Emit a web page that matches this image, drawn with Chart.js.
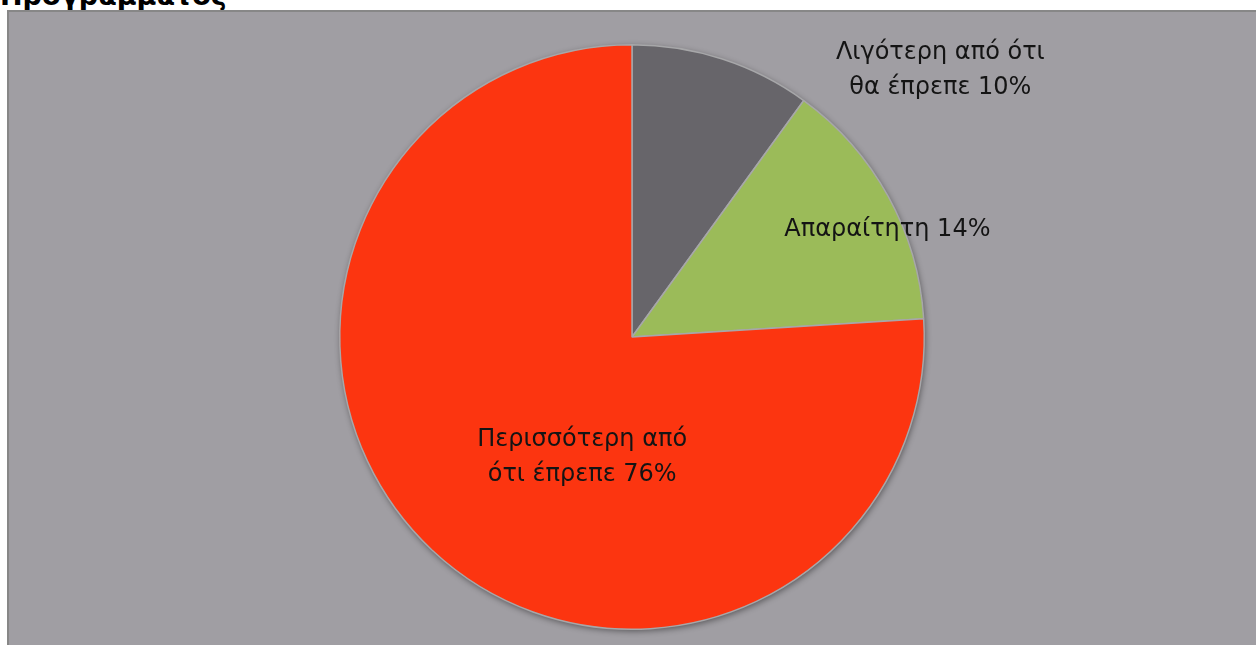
<!DOCTYPE html>
<html>
<head>
<meta charset="utf-8">
<script src="https://cdn.jsdelivr.net/npm/chart.js@4/dist/chart.umd.min.js"></script>
<style>
    html, body { margin: 0; padding: 0; background: #ffffff; overflow: hidden; }
    #pageTitle {
        position: absolute; left: 0; top: -20px;
        font: bold 27px "DejaVu Sans", sans-serif; color: #000;
        white-space: nowrap;
    }
    #plotBox {
        position: absolute; left: 7px; top: 10px; width: 1260px; height: 650px;
        background: #a09ea3; border: 2px solid #878787; box-sizing: border-box;
    }
    #chartCanvas { position: absolute; left: 0; top: 0; }
</style>
</head>
<body>
<div id="pageTitle">Προγράμματος</div>
<div id="plotBox"></div>
<canvas id="chartCanvas" width="1256" height="645"></canvas>
<script>
// κατηγορίες και ποσοστά
const categories = ["Λιγότερη από ότι θα έπρεπε", "Απαραίτητη", "Περισσότερη από ότι έπρεπε"];
const values = [10, 14, 76];
const sliceColors = ["#67656a", "#9bbb59", "#fc3510"];

// κείμενο ετικετών (το ποσοστό μπαίνει στο τέλος της τελευταίας γραμμής)
const labelLines = [
    ["Λιγότερη από ότι", "θα έπρεπε"],
    ["Απαραίτητη"],
    ["Περισσότερη από", "ότι έπρεπε"]
];
// θέση ετικέτας: γωνία (μοίρες από τα πάνω, δεξιόστροφα) και απόσταση ως κλάσμα της ακτίνας
const labelAngles = [48.9, 66.9, 202.8];
const labelRadii = [1.40, 0.95, 0.44];

// σκιά γύρω από την πίτα
const pieShadow = {
    id: "pieShadow",
    beforeDatasetsDraw(chart) {
        const arc = chart.getDatasetMeta(0).data[0];
        if (!arc) return;
        const ctx = chart.ctx;
        ctx.save();
        ctx.shadowColor = "rgba(0,0,0,0.45)";
        ctx.shadowBlur = 6;
        ctx.shadowOffsetX = 1;
        ctx.shadowOffsetY = 2;
        ctx.fillStyle = "#a09ea3";
        ctx.beginPath();
        ctx.arc(arc.x, arc.y, arc.outerRadius, 0, Math.PI * 2);
        ctx.fill();
        ctx.restore();
    }
};

// ετικέτες δεδομένων
const sliceLabels = {
    id: "sliceLabels",
    afterDatasetsDraw(chart) {
        const meta = chart.getDatasetMeta(0);
        const ctx = chart.ctx;
        ctx.save();
        ctx.font = '24px "DejaVu Sans", sans-serif';
        ctx.fillStyle = "#141414";
        ctx.textAlign = "center";
        ctx.textBaseline = "middle";
        meta.data.forEach((arc, i) => {
            const a = labelAngles[i] * Math.PI / 180;
            const r = arc.outerRadius * labelRadii[i];
            const cx = arc.x + Math.sin(a) * r;
            const cy = arc.y - Math.cos(a) * r + 2;
            const lines = labelLines[i].slice();
            lines[lines.length - 1] += " " + values[i] + "%";
            const lh = 35;
            const top = cy - (lines.length - 1) * lh / 2;
            lines.forEach((t, j) => ctx.fillText(t, cx, top + j * lh));
        });
        ctx.restore();
    }
};

new Chart(document.getElementById("chartCanvas").getContext("2d"), {
    type: "pie",
    data: {
        labels: categories,
        datasets: [{
            data: values,
            backgroundColor: sliceColors,
            borderColor: "#a7a7a9",
            borderWidth: 1.5
        }]
    },
    options: {
        responsive: false,
        animation: false,
        layout: { padding: { top: 44, bottom: 15, left: 8, right: 0 } },
        plugins: {
            legend: { display: false },
            tooltip: { enabled: false },
            title: { display: false }
        }
    },
    plugins: [pieShadow, sliceLabels]
});
</script>
</body>
</html>
